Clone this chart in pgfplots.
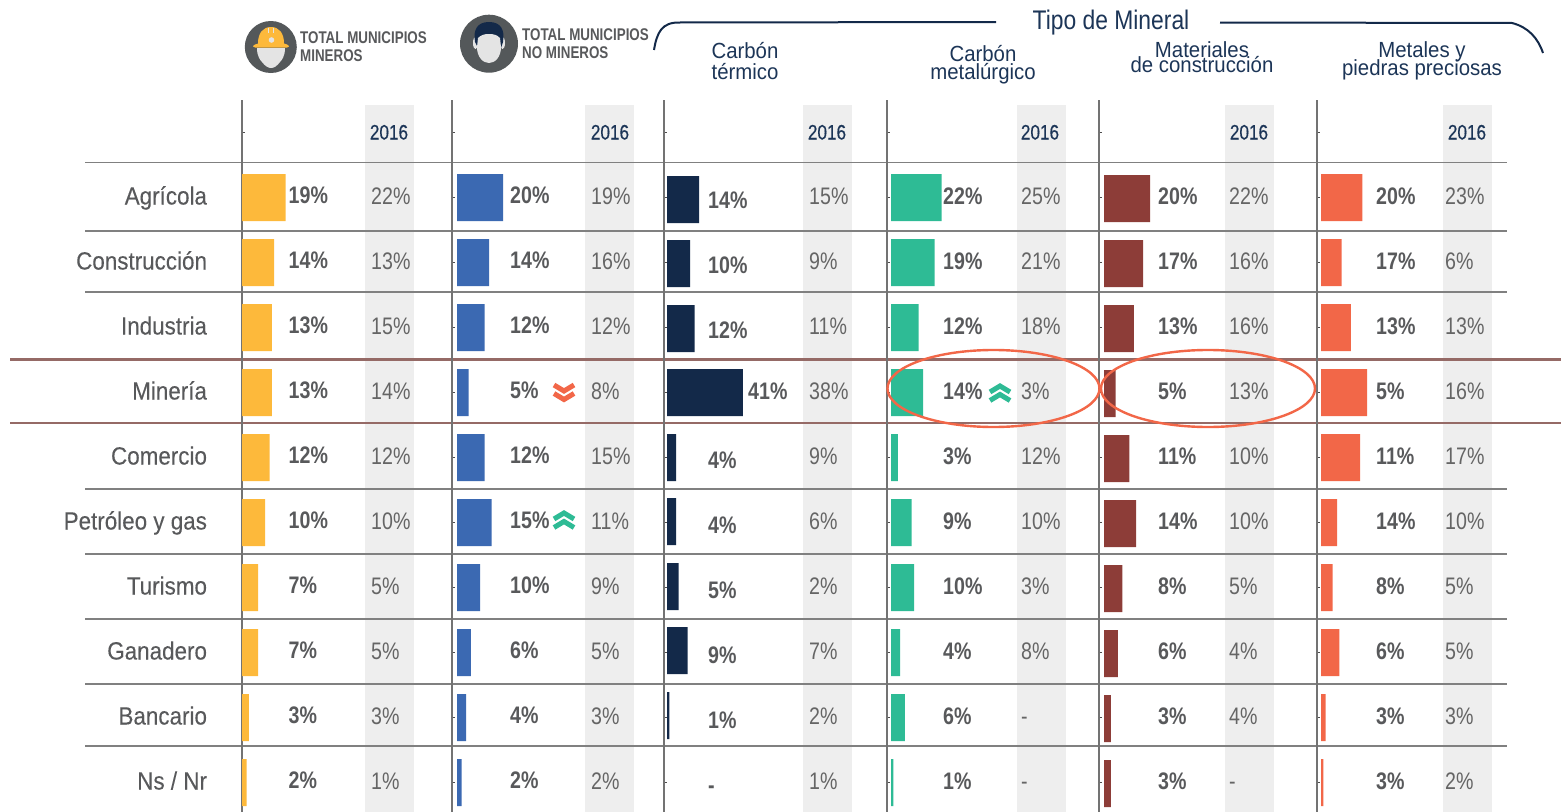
\documentclass[border=0pt]{standalone}
\usepackage{fontspec}
\usepackage{pgfplots}
\usepackage{pgfplotstable}
\pgfplotsset{compat=1.18}
\setmainfont{Liberation Sans}
\newfontfamily\catf[FakeStretch=0.90,FakeBold=0.15]{Liberation Sans}
\newfontfamily\valf[FakeStretch=0.82]{Liberation Sans}
\newfontfamily\medf[FakeStretch=0.82,FakeBold=0.4]{Liberation Sans}
\newfontfamily\headf[FakeStretch=0.79]{Liberation Sans}
\newfontfamily\minf[FakeStretch=0.93]{Liberation Sans}
\newfontfamily\tipof[FakeStretch=0.85]{Liberation Sans}
\definecolor{cyel}{HTML}{FDB93B}
\definecolor{cblu}{HTML}{3B69B2}
\definecolor{cnav}{HTML}{132949}
\definecolor{cgrn}{HTML}{2EBB95}
\definecolor{cbro}{HTML}{8D3D38}
\definecolor{cora}{HTML}{F26748}
\definecolor{ctxt}{HTML}{58595B}
\definecolor{cold}{HTML}{656565}
\definecolor{cband}{HTML}{EEEEEE}
\definecolor{cline}{HTML}{808080}
\definecolor{cred}{HTML}{956A66}
\definecolor{chead}{HTML}{1C3557}
\definecolor{cicon}{HTML}{54585A}
\definecolor{cface}{HTML}{E4E4E4}
\newcommand\pc{\%}

\pgfplotstableread[col sep=comma]{
y,bar,ly,lab,oy,old
197.5,19,195,19\pc,196,22\pc
262.5,14,260,14\pc,261,13\pc
327.5,13,325,13\pc,326,15\pc
392.5,13,390,13\pc,391,14\pc
457.5,12,455,12\pc,456,12\pc
522.5,10,520,10\pc,521,10\pc
587.5,7,585,7\pc,586,5\pc
652.5,7,650,7\pc,651,5\pc
717.5,3,715,3\pc,716,3\pc
782.5,2,780,2\pc,781,1\pc
}\tabA
\pgfplotstableread[col sep=comma]{
y,bar,ly,lab,oy,old
197.5,20,195,20\pc,196,19\pc
262.5,14,260,14\pc,261,16\pc
327.5,12,325,12\pc,326,12\pc
392.5,5,390,5\pc,391,8\pc
457.5,12,455,12\pc,456,15\pc
522.5,15,520,15\pc,521,11\pc
587.5,10,585,10\pc,586,9\pc
652.5,6,650,6\pc,651,5\pc
717.5,4,715,4\pc,716,3\pc
782.5,2,780,2\pc,781,2\pc
}\tabB
\pgfplotstableread[col sep=comma]{
y,bar,ly,lab,oy,old
199.5,14,200,14\pc,196,15\pc
263.5,10,265,10\pc,261,9\pc
328.5,12,330,12\pc,326,11\pc
392.5,33,391,41\pc,391,38\pc
457.5,4,460,4\pc,456,9\pc
521.5,4,525,4\pc,521,6\pc
586.5,5,590,5\pc,586,2\pc
650.5,9,655,9\pc,651,7\pc
715.5,1,720,1\pc,716,2\pc
780.5,0,785,-,781,1\pc
}\tabC
\pgfplotstableread[col sep=comma]{
y,bar,ly,lab,oy,old
197.5,22,196,22\pc,196,25\pc
262.5,19,261,19\pc,261,21\pc
327.5,12,326,12\pc,326,18\pc
392.5,14,391,14\pc,391,3\pc
457.5,3,456,3\pc,456,12\pc
522.5,9,521,9\pc,521,10\pc
587.5,10,586,10\pc,586,3\pc
652.5,4,651,4\pc,651,8\pc
717.5,6,716,6\pc,716,-
782.5,1,781,1\pc,781,-
}\tabD
\pgfplotstableread[col sep=comma]{
y,bar,ly,lab,oy,old
198.5,20,196,20\pc,196,22\pc
263.5,17,261,17\pc,261,16\pc
328.5,13,326,13\pc,326,16\pc
393.5,5,391,5\pc,391,13\pc
458.5,11,456,11\pc,456,10\pc
523.5,14,521,14\pc,521,10\pc
588.5,8,586,8\pc,586,5\pc
653.5,6,651,6\pc,651,4\pc
718.5,3,716,3\pc,716,4\pc
783.5,3,781,3\pc,781,-
}\tabE
\pgfplotstableread[col sep=comma]{
y,bar,ly,lab,oy,old
197.5,18,196,20\pc,196,23\pc
262.5,9,261,17\pc,261,6\pc
327.5,13,326,13\pc,326,13\pc
392.5,20,391,5\pc,391,16\pc
457.5,17,456,11\pc,456,17\pc
522.5,7,521,14\pc,521,10\pc
587.5,5,586,8\pc,586,5\pc
652.5,8,651,6\pc,651,5\pc
717.5,2,716,3\pc,716,3\pc
782.5,1,781,3\pc,781,2\pc
}\tabF

% #1 axis x, #2 bar start x, #3 label x, #4 2016 column x, #5 table, #6 colour, #7 extra axis options
\newcommand\panel[7]{%
  \pgfmathsetmacro\xa{-(#2-#1)/2.3}%
  \pgfmathsetmacro\xb{(#1+190-#2)/2.3}%
  \pgfmathsetmacro\xl{(#3-#2)/2.3}%
  \pgfmathsetmacro\xo{(#4-#2)/2.3}%
  \begin{axis}[
    at={(#1 bp,-100bp)}, anchor=north west,
    x=2.3bp, y=1bp, y dir=reverse,
    xmin=\xa, xmax=\xb, ymin=100, ymax=812,
    clip=false,
    axis x line=none,
    axis y line=left,
    axis line style={draw=cline!90!black,line width=1.3bp,-},
    y axis line style={-},
    ytick={132,197.5,262.5,327.5,392.5,457.5,522.5,587.5,652.5,717.5,782.5},
    yticklabels={},
    tick style={draw=black!70,line width=0.8bp},
    major tick length=3bp,
    tick align=inside,
    #7]
    \addplot[xbar, bar width=47bp, bar shift=0pt, fill=#6, draw=none,
      x filter/.expression={x>0 ? x : nan}] table[x=bar,y=y] {#5};
    \addplot[draw=none, mark=none, nodes near coords, point meta=explicit symbolic,
      every node near coord/.style={anchor=base west,inner sep=0pt,yshift=-8.5bp,text=ctxt,
        font=\valf\bfseries\fontsize{24}{24}\selectfont}]
      table[x expr={\xl+(\thisrow{bar}>30)*17.4}, y=ly, meta=lab] {#5};
    \addplot[draw=none, mark=none, nodes near coords, point meta=explicit symbolic,
      every node near coord/.style={anchor=base west,inner sep=0pt,yshift=-8.5bp,text=cold,
        font=\valf\fontsize{24}{24}\selectfont}]
      table[x expr=\xo, y=oy, meta=old] {#5};
  \end{axis}%
}
\newcommand\chevup[3]{%
  \draw[#3,line width=5bp,miter limit=10] (#1-10,#2-1)--(#1,#2-7)--(#1+10,#2-1);
  \draw[#3,line width=5bp,miter limit=10] (#1-10,#2+7.5)--(#1,#2+1.5)--(#1+10,#2+7.5);}
\newcommand\chevdn[3]{%
  \draw[#3,line width=5bp,miter limit=10] (#1-10,#2-7.5)--(#1,#2-1.5)--(#1+10,#2-7.5);
  \draw[#3,line width=5bp,miter limit=10] (#1-10,#2+1)--(#1,#2+7)--(#1+10,#2+1);}

\begin{document}
\begin{tikzpicture}
\useasboundingbox (0,0) rectangle (1561bp,-812bp);
\begin{scope}[x=1bp,y=-1bp]
  % grey 2016 bands
  \foreach \a in {365,585,803,1017,1225,1443}
    \fill[cband] (\a,105) rectangle (\a+49,812);
  % rules
  \foreach \y in {162.5,231,292,489,554,619,684,746}
    \draw[cline,line width=1.4bp] (85,\y)--(1507,\y);
  \foreach \y in {359.3,423}
    \draw[cred,line width=2.6bp] (10,\y)--(1561,\y);
  % column headers
  \foreach \x in {389,610,827,1040,1249,1467}
    \node[text=chead,inner sep=0pt,anchor=base,font=\medf\fontsize{21}{21}\selectfont] at (\x,139.5) {2016};
\end{scope}

\panel{242}{242}{288.5}{371}{\tabA}{cyel}{yticklabels={,Agrícola,Construcción,Industria,Minería,Comercio,Petróleo y gas,Turismo,Ganadero,Bancario,Ns / Nr},
   yticklabel style={anchor=base east,xshift=-31.5bp,yshift=-7bp,text=ctxt,font=\catf\fontsize{25}{25}\selectfont}}
\panel{452}{457}{510}{591}{\tabB}{cblu}{}
\panel{664}{667}{708}{809}{\tabC}{cnav}{}
\panel{887}{891}{943}{1021}{\tabD}{cgrn}{}
\panel{1099}{1104}{1158}{1229}{\tabE}{cbro}{}
\panel{1317}{1321}{1376}{1445}{\tabF}{cora}{}

\begin{scope}[x=1bp,y=-1bp]
  % highlights
  \draw[cora,line width=2.4bp] (993.5,388.5) ellipse [x radius=106,y radius=38.5];
  \draw[cora,line width=2.4bp] (1208,388.5) ellipse [x radius=107,y radius=38.5];
  \chevdn{564}{392.5}{cora}
  \chevup{564}{520}{cgrn}
  \chevup{1000}{393}{cgrn}
  % bracket
  \draw[cnav,line width=2bp] (654,50) .. controls (657,32) and (662,22) .. (680,22.5) -- (996,22);
  \draw[cnav,line width=2bp] (1220,22.5) -- (1512,23) .. controls (1528,27) and (1538,38) .. (1543,53);
  \node[text=chead,inner sep=0pt,font=\tipof\fontsize{27}{27}\selectfont,anchor=base] at (1111,29) {Tipo de Mineral};
  % mineral headers
  \foreach \t/\x/\y in {Carbón/745/58,térmico/745/79,Carbón/983/61,metalúrgico/983/79,Materiales/1202/57,de construcción/1202/72,Metales y/1422/57,piedras preciosas/1422/75}
    \node[text=chead,inner sep=0pt,font=\minf\fontsize{22}{22}\selectfont,anchor=base] at (\x,\y) {\t};
  % left headers
  \foreach \t/\x/\y in {TOTAL MUNICIPIOS/300/43,MINEROS/300/61,TOTAL MUNICIPIOS/522/40,NO MINEROS/522/58}
    \node[text=ctxt,inner sep=0pt,font=\headf\bfseries\fontsize{17}{17}\selectfont,anchor=base west] at (\x,\y) {\t};
  % miner icon
  \fill[cicon] (270.8,47) circle (26);
  \fill[cface] (257,48) -- (285,48) .. controls (285,56) and (282,60) .. (280,62) .. controls (277,66) and (274,68) .. (271,68) .. controls (268,68) and (265,66) .. (262,62) .. controls (260,60) and (257,56) .. (257,48) -- cycle;
  \fill[cyel] (258,43.5) .. controls (258,33) and (263,27) .. (271,27) .. controls (279,27) and (284,33) .. (284,43.5) -- (287,44.5) .. controls (290,46) and (289,47.5) .. (287,47.5) -- (255,47.5) .. controls (253,47.5) and (252,46) .. (255,44.5) -- cycle;
  \fill[cface] (271.5,40) circle (2.8);
  \fill[cface] (268,28) rectangle (269.3,33);
  \fill[cface] (273,28) rectangle (274.3,33);
  % non-miner icon
  \fill[cicon] (489,43.7) circle (29);
  \fill[cface] (475.5,43) ellipse [x radius=2.5,y radius=6];
  \fill[cface] (502.5,43) ellipse [x radius=2.5,y radius=6];
  \fill[cnav] (475,42) .. controls (473,30) and (477,22) .. (489,22) .. controls (501,22) and (505,30) .. (503,42) -- (501,48) -- (478,48) -- cycle;
  \fill[cface] (478,38) .. controls (481,35) and (484,34) .. (489,34) .. controls (494,34) and (497,35) .. (500,38) -- (501,47) .. controls (501,57) and (495,63) .. (489,63) .. controls (483,63) and (477,57) .. (477,47) -- cycle;
\end{scope}
\end{tikzpicture}
\end{document}
